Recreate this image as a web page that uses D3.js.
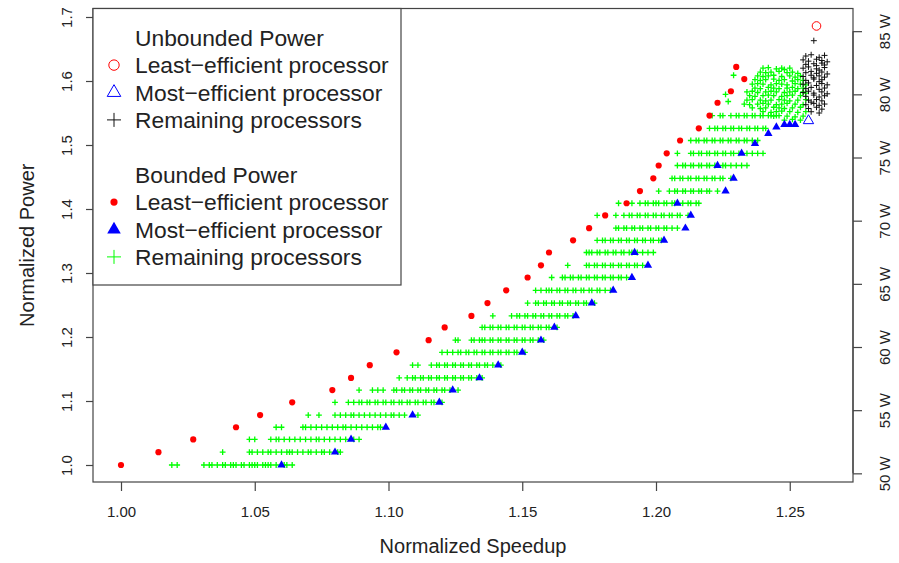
<!DOCTYPE html>
<html><head><meta charset="utf-8">
<script src="https://cdn.jsdelivr.net/npm/d3@7"></script>
<style>
body{margin:0;background:#fff}
text{font-family:"Liberation Sans",Arial,Helvetica,sans-serif;fill:#222}
</style>
</head><body>
<svg id="chart" width="899" height="563"></svg>
<script>
// ---------------- data ----------------
const xTicks = [1.00, 1.05, 1.10, 1.15, 1.20, 1.25];
const yTicks = [1.0, 1.1, 1.2, 1.3, 1.4, 1.5, 1.6, 1.7];
const wattTicks = [50, 55, 60, 65, 70, 75, 80, 85];
const basePowerW = 50.66; // watts corresponding to normalized power 1.0

// Bounded power: power-cap levels (normalized power)
const levels = [1.000,1.020,1.040,1.059,1.078,1.098,1.117,1.136,1.156,1.176,1.195,1.215,1.233,1.253,1.273,1.293,1.312,1.332,1.351,1.370,1.390,1.409,1.428,1.448,1.468,1.487,1.507,1.526,1.546,1.566,1.584,1.603,1.622];
// Bounded: least-efficient processor speedup at each level
const leastSpeedup = [1.000,1.014,1.027,1.043,1.052,1.064,1.079,1.086,1.093,1.103,1.115,1.121,1.131,1.137,1.144,1.152,1.157,1.160,1.169,1.175,1.181,1.189,1.194,1.199,1.201,1.204,1.209,1.216,1.220,1.223,1.228,1.233,1.230];
// Bounded: most-efficient processor
const mostSpeedup = [1.060,1.080,1.086,1.099,1.109,1.119,1.124,1.134,1.141,1.150,1.157,1.162,1.170,1.176,1.184,1.191,1.197,1.192,1.203,1.211,1.213,1.208,1.226,1.229,1.223,1.232,1.237,1.242,1.245,1.248,1.250,1.252];
const mostPower = [1.000,1.020,1.040,1.059,1.078,1.098,1.117,1.136,1.156,1.176,1.195,1.215,1.233,1.253,1.273,1.293,1.312,1.332,1.351,1.370,1.390,1.409,1.428,1.448,1.468,1.487,1.502,1.518,1.528,1.532,1.532,1.532];
// Bounded: remaining processors, speedups per level (index into levels)
const remainingBounded = [
[1.019,1.021,1.031,1.033,1.034,1.036,1.038,1.039,1.041,1.042,1.043,1.045,1.046,1.048,1.049,1.050,1.051,1.053,1.054,1.055,1.056,1.058,1.061,1.062,1.064],
[1.038,1.048,1.049,1.051,1.053,1.055,1.056,1.058,1.060,1.062,1.063,1.064,1.066,1.068,1.070,1.071,1.073,1.075,1.076,1.078,1.081,1.082],
[1.048,1.050,1.056,1.058,1.059,1.061,1.063,1.065,1.067,1.069,1.071,1.073,1.074,1.076,1.078,1.080,1.082,1.084,1.087,1.089],
[1.058,1.060,1.068,1.069,1.071,1.073,1.075,1.077,1.079,1.081,1.083,1.084,1.086,1.088,1.090,1.092,1.094,1.096,1.097],
[1.070,1.074,1.080,1.082,1.084,1.086,1.087,1.089,1.091,1.093,1.095,1.097,1.099,1.101,1.102,1.104,1.106,1.111],
[1.080,1.085,1.087,1.089,1.090,1.092,1.093,1.095,1.096,1.098,1.099,1.101,1.102,1.104,1.105,1.107,1.108,1.110,1.111,1.113,1.114,1.116,1.117,1.120],
[1.089,1.094,1.096,1.098,1.102,1.103,1.105,1.106,1.108,1.109,1.111,1.112,1.114,1.115,1.117,1.118,1.120,1.121,1.123,1.126],
[1.104,1.107,1.109,1.110,1.112,1.113,1.115,1.116,1.118,1.119,1.121,1.122,1.124,1.125,1.127,1.128,1.130,1.131,1.133,1.135],
[1.109,1.111,1.116,1.118,1.119,1.121,1.122,1.124,1.125,1.127,1.128,1.130,1.131,1.133,1.134,1.136,1.137,1.139,1.142],
[1.120,1.122,1.124,1.126,1.127,1.129,1.130,1.132,1.133,1.135,1.136,1.138,1.139,1.141,1.142,1.144,1.145,1.147,1.148,1.151],
[1.125,1.126,1.131,1.132,1.134,1.135,1.136,1.138,1.139,1.141,1.142,1.144,1.145,1.147,1.148,1.150,1.151,1.153,1.154,1.156,1.158],
[1.135,1.136,1.138,1.139,1.141,1.142,1.144,1.145,1.147,1.148,1.150,1.151,1.153,1.154,1.156,1.157,1.159,1.160,1.163],
[1.139,1.146,1.148,1.149,1.151,1.152,1.154,1.155,1.157,1.158,1.160,1.161,1.163,1.164,1.166,1.167,1.169],
[1.152,1.155,1.156,1.158,1.159,1.161,1.162,1.164,1.165,1.167,1.168,1.170,1.171,1.173,1.174,1.177],
[1.155,1.157,1.159,1.160,1.161,1.163,1.164,1.166,1.167,1.169,1.170,1.172,1.173,1.175,1.176,1.178,1.179,1.181,1.183],
[1.161,1.165,1.166,1.168,1.169,1.171,1.172,1.174,1.175,1.177,1.178,1.180,1.181,1.183,1.184,1.186,1.187,1.189],
[1.167,1.174,1.175,1.177,1.178,1.180,1.181,1.183,1.184,1.186,1.187,1.189,1.190,1.192,1.193,1.195],
[1.174,1.175,1.176,1.178,1.179,1.181,1.182,1.184,1.185,1.187,1.188,1.190,1.191,1.193,1.195,1.197,1.199],
[1.178,1.180,1.181,1.183,1.184,1.186,1.187,1.189,1.190,1.192,1.193,1.195,1.196,1.198,1.199,1.201,1.202],
[1.185,1.186,1.188,1.189,1.191,1.192,1.194,1.195,1.197,1.198,1.200,1.201,1.203,1.204,1.206,1.208],
[1.178,1.185,1.188,1.190,1.191,1.193,1.194,1.196,1.197,1.199,1.200,1.202,1.203,1.205,1.206,1.208,1.209,1.212],
[1.186,1.191,1.194,1.196,1.197,1.199,1.200,1.201,1.203,1.204,1.206,1.207,1.210,1.212,1.213,1.215,1.216],
[1.201,1.205,1.207,1.208,1.210,1.211,1.213,1.214,1.216,1.217,1.219,1.220,1.223],
[1.206,1.207,1.209,1.210,1.212,1.213,1.215,1.216,1.218,1.219,1.221,1.222,1.224,1.225,1.228],
[1.208,1.210,1.211,1.213,1.214,1.216,1.217,1.219,1.220,1.222,1.225,1.226,1.228,1.230,1.232,1.234],
[1.208,1.213,1.214,1.216,1.217,1.219,1.220,1.222,1.223,1.225,1.226,1.228,1.229,1.231,1.234,1.236,1.238,1.240],
[1.213,1.215,1.216,1.218,1.219,1.221,1.222,1.224,1.225,1.227,1.228,1.230,1.231,1.233,1.234,1.236,1.238],
[1.220,1.222,1.223,1.225,1.226,1.228,1.229,1.231,1.232,1.234,1.235,1.237,1.238,1.240,1.241],
[1.221,1.224,1.225,1.228,1.230,1.231,1.233,1.234,1.236,1.237,1.239,1.240,1.242,1.243,1.245]
];
// Bounded: remaining processors near the top (power below cap), [speedup, power]
const remainingBoundedTop = [
[1.229,1.609],[1.226,1.579],[1.227,1.568],
[1.240,1.620],[1.242,1.621],[1.245,1.619],[1.247,1.620],[1.248,1.618],[1.250,1.620],
[1.239,1.614],[1.241,1.613],[1.243,1.614],[1.246,1.615],[1.249,1.613],[1.251,1.614],[1.253,1.612],
[1.238,1.608],[1.240,1.607],[1.242,1.608],[1.244,1.609],[1.247,1.607],[1.250,1.608],[1.252,1.606],[1.254,1.608],
[1.237,1.602],[1.239,1.601],[1.241,1.602],[1.244,1.603],[1.246,1.601],[1.248,1.602],[1.251,1.600],[1.253,1.602],[1.255,1.601],
[1.236,1.595],[1.238,1.596],[1.240,1.595],[1.243,1.594],[1.245,1.596],[1.247,1.595],[1.249,1.594],[1.252,1.596],[1.254,1.595],[1.256,1.594],
[1.237,1.589],[1.239,1.588],[1.242,1.590],[1.244,1.589],[1.246,1.588],[1.249,1.589],[1.251,1.590],[1.253,1.588],[1.255,1.589],
[1.234,1.583],[1.236,1.584],[1.238,1.582],[1.241,1.583],[1.243,1.584],[1.245,1.583],[1.248,1.582],[1.250,1.583],[1.252,1.584],[1.255,1.583],[1.256,1.581],
[1.235,1.577],[1.237,1.576],[1.240,1.577],[1.242,1.578],[1.244,1.577],[1.247,1.576],[1.249,1.577],[1.251,1.578],[1.254,1.577],
[1.234,1.570],[1.236,1.571],[1.239,1.570],[1.241,1.569],[1.243,1.570],[1.246,1.571],[1.248,1.570],[1.250,1.569],[1.253,1.570],[1.256,1.571],
[1.233,1.564],[1.235,1.563],[1.238,1.564],[1.240,1.565],[1.242,1.564],[1.245,1.563],[1.247,1.564],[1.249,1.565],[1.252,1.564],[1.255,1.563],
[1.236,1.558],[1.239,1.557],[1.241,1.558],[1.244,1.559],[1.246,1.558],[1.248,1.557],[1.251,1.558],[1.254,1.559],
[1.240,1.552],[1.243,1.551],[1.245,1.552],[1.247,1.553],[1.250,1.552],[1.253,1.551],[1.256,1.552],
[1.244,1.545],[1.246,1.546],[1.249,1.545],[1.252,1.544],[1.255,1.545],
[1.248,1.539],[1.251,1.540],[1.254,1.539]
];
// Unbounded power
const unboundedLeast = [[1.260, 1.686]];
const unboundedMost = [[1.257, 1.538]];
const unboundedRemaining = [
[1.259,1.663],
[1.256,1.639],[1.258,1.641],[1.261,1.637],[1.263,1.640],
[1.255,1.633],[1.257,1.631],[1.260,1.634],[1.262,1.632],[1.264,1.630],
[1.256,1.626],[1.259,1.627],[1.260,1.624],[1.262,1.628],[1.263,1.625],
[1.255,1.620],[1.257,1.622],[1.260,1.619],[1.261,1.617],[1.263,1.621],
[1.256,1.613],[1.258,1.615],[1.260,1.612],[1.262,1.614],[1.264,1.611],
[1.255,1.607],[1.258,1.609],[1.259,1.605],[1.261,1.608],[1.263,1.606],
[1.256,1.601],[1.259,1.603],[1.261,1.599],[1.262,1.602],
[1.255,1.595],[1.257,1.597],[1.260,1.593],[1.262,1.596],[1.264,1.594],
[1.256,1.588],[1.258,1.590],[1.261,1.587],[1.263,1.589],
[1.255,1.582],[1.257,1.584],[1.259,1.581],[1.262,1.583],[1.264,1.580],
[1.256,1.576],[1.259,1.578],[1.261,1.575],[1.263,1.577],
[1.257,1.570],[1.258,1.567],[1.260,1.571],[1.262,1.569],
[1.256,1.563],[1.259,1.565],[1.261,1.562],[1.263,1.564],
[1.257,1.557],[1.260,1.559],[1.262,1.556],
[1.258,1.552],[1.261,1.550]
];
const legendLabels = ["Unbounded Power","Least\u2212efficient processor","Most\u2212efficient processor","Remaining processors","","Bounded Power","Least\u2212efficient processor","Most\u2212efficient processor","Remaining processors"];

// ---------------- drawing ----------------
const RED = "#ff0000", BLUE = "#0000ff", GREEN = "#00ff00";
const svg = d3.select("#chart");
const x = d3.scaleLinear().domain([1, 1.25]).range([121, 789.75]);
const y = d3.scaleLinear().domain([1, 1.7]).range([465, 17]);
const yW = d3.scaleLinear().domain([50, 85]).range([y(50 / basePowerW), y(85 / basePowerW)]);
const L = 93, R = 853, T = 8.5, B = 482;

const plusPath = s => `M${-s},0H${s}M0,${-s}V${s}`;
const tri = s => d3.symbol().type(d3.symbolTriangle).size(s)();

// green remaining (bounded)
const greenPts = [];
remainingBounded.forEach((row, i) => row.forEach(s => greenPts.push([s, levels[i]])));
remainingBoundedTop.forEach(p => greenPts.push(p));
svg.append("g").selectAll("path").data(greenPts).join("path")
  .attr("d", plusPath(2.9)).attr("transform", d => `translate(${x(d[0])},${y(d[1])})`)
  .attr("stroke", GREEN).attr("stroke-width", 1.3).attr("fill", "none");

// black remaining (unbounded)
svg.append("g").selectAll("path").data(unboundedRemaining).join("path")
  .attr("d", plusPath(3)).attr("transform", d => `translate(${x(d[0])},${y(d[1])})`)
  .attr("stroke", "#111").attr("stroke-width", 1).attr("fill", "none");

// bounded most efficient (filled blue triangles)
svg.append("g").selectAll("path").data(mostSpeedup.map((s, i) => [s, mostPower[i]])).join("path")
  .attr("d", tri(30)).attr("transform", d => `translate(${x(d[0])},${y(d[1])})`)
  .attr("fill", BLUE);

// bounded least efficient (red dots)
svg.append("g").selectAll("circle").data(leastSpeedup.map((s, i) => [s, levels[i]])).join("circle")
  .attr("cx", d => x(d[0])).attr("cy", d => y(d[1])).attr("r", 3.1).attr("fill", RED);

// unbounded least (open red circle)
svg.append("g").selectAll("circle").data(unboundedLeast).join("circle")
  .attr("cx", d => x(d[0])).attr("cy", d => y(d[1])).attr("r", 4.3)
  .attr("fill", "none").attr("stroke", RED).attr("stroke-width", 1);
// unbounded most (open blue triangle)
svg.append("g").selectAll("path").data(unboundedMost).join("path")
  .attr("d", tri(46)).attr("transform", d => `translate(${x(d[0])},${y(d[1])})`)
  .attr("fill", "none").attr("stroke", BLUE).attr("stroke-width", 1);

// plot box
svg.append("rect").attr("x", L).attr("y", T).attr("width", R - L).attr("height", B - T)
  .attr("fill", "none").attr("stroke", "#444").attr("stroke-width", 1.2);

// axes
const ax = svg.append("g").attr("transform", `translate(0,${B})`)
  .call(d3.axisBottom(x).tickValues(xTicks).tickFormat(d3.format(".2f")).tickSize(9));
ax.select(".domain").remove();
ax.selectAll("line").attr("stroke", "#444").attr("stroke-width", 1.2);
ax.selectAll("text").attr("y", 35).attr("dy", 0).style("font-size", "15px")
  .style("font-family", '"Liberation Sans",Arial,sans-serif').attr("fill", "#222");

const ay = svg.append("g").attr("transform", `translate(${L},0)`)
  .call(d3.axisLeft(y).tickValues(yTicks).tickFormat(d3.format(".1f")).tickSize(7));
ay.select(".domain").remove();
ay.selectAll("line").attr("stroke", "#444").attr("stroke-width", 1.2);
ay.selectAll("text").attr("x", null).attr("dy", 0).attr("text-anchor", "middle")
  .attr("transform", "translate(-21,0) rotate(-90)").style("font-size", "15px")
  .style("font-family", '"Liberation Sans",Arial,sans-serif').attr("fill", "#222");

const ar = svg.append("g").attr("transform", `translate(${R},0)`)
  .call(d3.axisRight(yW).tickValues(wattTicks).tickFormat(d => d + " W").tickSize(9));
ar.select(".domain").attr("d", `M0,${yW(85)}V${yW(50)}`).attr("stroke", "#444").attr("stroke-width", 1.2);
ar.selectAll("line").attr("stroke", "#444").attr("stroke-width", 1.2);
ar.selectAll("text").attr("x", null).attr("dy", 0).attr("text-anchor", "middle")
  .attr("transform", "translate(37,0) rotate(-90)").style("font-size", "15px")
  .style("font-family", '"Liberation Sans",Arial,sans-serif').attr("fill", "#222");

// axis titles
svg.append("text").attr("x", (L + R) / 2).attr("y", 553).attr("text-anchor", "middle")
  .style("font-size", "20px").text("Normalized Speedup");
svg.append("text").attr("transform", `translate(34,${(T + B) / 2}) rotate(-90)`)
  .attr("text-anchor", "middle").style("font-size", "20px").text("Normalized Power");

// legend
const lg = svg.append("g");
lg.append("rect").attr("x", L).attr("y", T).attr("width", 308).attr("height", 276.5)
  .attr("fill", "#fff").attr("stroke", "#444").attr("stroke-width", 1.2);
const base0 = 45.7, step = 27.4, symX = 114, txtX = 135;
lg.selectAll("text").data(legendLabels).join("text")
  .attr("x", txtX).attr("y", (d, i) => base0 + step * i)
  .style("font-size", "22.8px").text(d => d);
const sy = i => base0 + step * i - 8;
lg.append("circle").attr("cx", symX).attr("cy", sy(1)).attr("r", 5.2)
  .attr("fill", "none").attr("stroke", RED).attr("stroke-width", 1);
lg.append("path").attr("d", tri(80)).attr("transform", `translate(${symX},${sy(2)})`)
  .attr("fill", "none").attr("stroke", BLUE).attr("stroke-width", 1);
lg.append("path").attr("d", plusPath(7)).attr("transform", `translate(${symX},${sy(3)})`)
  .attr("stroke", "#111").attr("stroke-width", 1).attr("fill", "none");
lg.append("circle").attr("cx", symX).attr("cy", sy(6)).attr("r", 3.6).attr("fill", RED);
lg.append("path").attr("d", tri(80)).attr("transform", `translate(${symX},${sy(7)})`).attr("fill", BLUE);
lg.append("path").attr("d", plusPath(7)).attr("transform", `translate(${symX},${sy(8)})`)
  .attr("stroke", GREEN).attr("stroke-width", 1).attr("fill", "none");
</script>
</body></html>
